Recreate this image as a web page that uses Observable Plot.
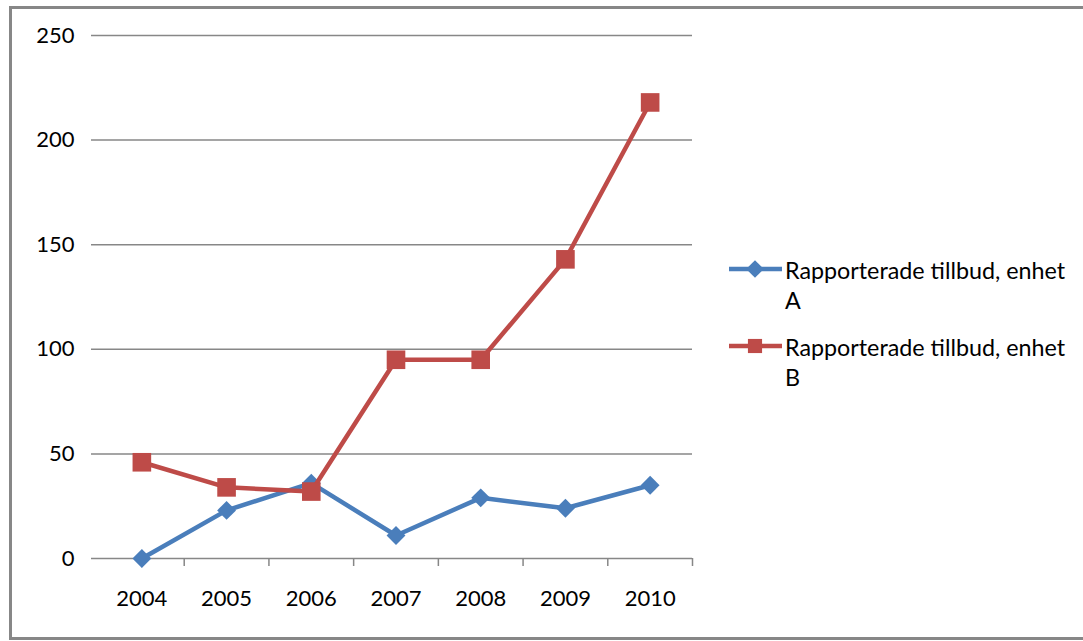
<!DOCTYPE html>
<html>
<head>
<meta charset="utf-8">
<script src="https://cdn.jsdelivr.net/npm/d3@7"></script>
<script src="https://cdn.jsdelivr.net/npm/@observablehq/plot@0.6"></script>
<style>
  body { margin: 0; background: #fff; font-family: Lato, "Open Sans", sans-serif; }
  #wrap { position: relative; width: 1083px; height: 641px; overflow: hidden; }
  #border { position: absolute; left: 9px; top: 6px; width: 1200px; height: 628px; border: 3px solid #878787; }
  #chart, #legend { position: absolute; left: 0; top: 0; }
</style>
</head>
<body>
<div id="wrap">
  <div id="border"></div>
  <div id="chart"></div>
  <div id="legend"></div>
</div>
<script>
// Reported near-misses per year, two units
const years = [2004, 2005, 2006, 2007, 2008, 2009, 2010];
const unitA = [0, 23, 36, 11, 29, 24, 35];
const unitB = [46, 34, 32, 95, 95, 143, 218];
const yTicks = [0, 50, 100, 150, 200, 250];
const seriesNames = ["Rapporterade tillbud, enhet A", "Rapporterade tillbud, enhet B"];
const colors = ["#4a7ebb", "#be4b48"];

const rowsA = years.map((year, i) => ({year, value: unitA[i]}));
const rowsB = years.map((year, i) => ({year, value: unitB[i]}));
// category separators sit halfway between years
const separators = years.map(y => y + 0.5);

const chart = Plot.plot({
  width: 1083,
  height: 641,
  marginLeft: 99,
  marginRight: 391,
  marginTop: 35,
  marginBottom: 83,
  style: {fontFamily: "Lato, 'Open Sans', sans-serif", fontSize: "22px", color: "#000", background: "transparent"},
  x: {domain: [2003.5, 2010.5]},
  y: {domain: [0, 250]},
  marks: [
    Plot.ruleY(yTicks, {stroke: "#878787", strokeWidth: 1.5, insetLeft: -8}),
    Plot.axisY({ticks: yTicks, tickSize: 0, tickPadding: 25, label: null}),
    Plot.axisX({ticks: separators, tickSize: 8, tickFormat: () => "", stroke: "#878787", strokeWidth: 1.5, label: null}),
    Plot.axisX({ticks: years, tickSize: 0, tickPadding: 32, tickFormat: d => String(d), label: null}),
    Plot.line(rowsA, {x: "year", y: "value", stroke: colors[0], strokeWidth: 4.5}),
    Plot.dot(rowsA, {x: "year", y: "value", symbol: "diamond2", r: 8.5, fill: colors[0]}),
    Plot.line(rowsB, {x: "year", y: "value", stroke: colors[1], strokeWidth: 4.5}),
    Plot.dot(rowsB, {x: "year", y: "value", symbol: "square", r: 10.5, fill: colors[1]})
  ]
});
document.getElementById("chart").append(chart);

// Legend to the right of the plot area
const leg = d3.select("#legend").append("svg")
  .attr("width", 1083).attr("height", 641)
  .style("font-family", "Lato, 'Open Sans', sans-serif")
  .style("font-size", "23.3px");

const entries = [
  {name: seriesNames[0], color: colors[0], symbol: d3.symbolDiamond2, y: 269},
  {name: seriesNames[1], color: colors[1], symbol: d3.symbolSquare, y: 346}
];
entries.forEach(e => {
  const g = leg.append("g");
  g.append("line").attr("x1", 729).attr("x2", 782).attr("y1", e.y).attr("y2", e.y)
    .attr("stroke", e.color).attr("stroke-width", 4.5);
  g.append("path").attr("d", d3.symbol(e.symbol, 200)())
    .attr("transform", `translate(755,${e.y})`).attr("fill", e.color);
  const words = e.name.split(" ");
  const last = words.pop();
  const t = g.append("text").attr("x", 785).attr("y", e.y + 10).attr("fill", "#000");
  t.append("tspan").attr("x", 785).text(words.join(" "));
  t.append("tspan").attr("x", 785).attr("dy", 29.5).text(last);
});
</script>
</body>
</html>
